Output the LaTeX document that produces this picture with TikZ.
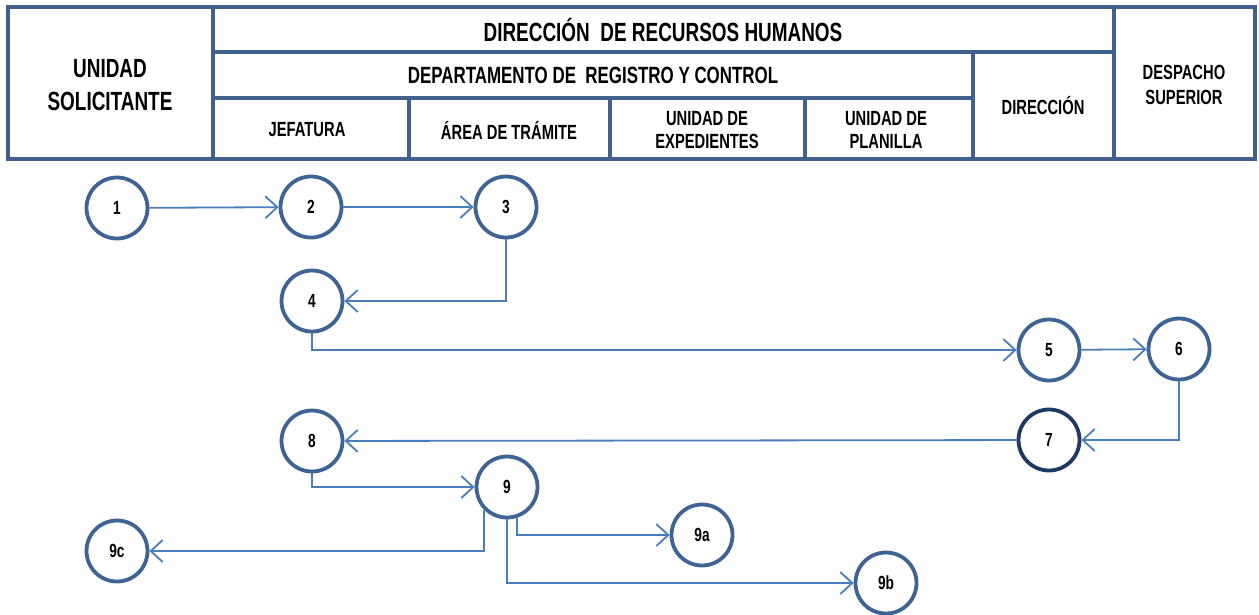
\documentclass[tikz,border=0pt]{standalone}
\usepackage{fontspec}
\setmainfont{Liberation Sans}[FakeStretch=0.72]
\usetikzlibrary{arrows.meta}
\definecolor{marco}{RGB}{65,97,140}
\definecolor{circulo}{RGB}{62,99,148}
\definecolor{flecha}{RGB}{74,126,187}
\definecolor{oscuro}{RGB}{31,56,100}
\begin{document}
\begin{tikzpicture}[x=1pt,y=-1pt,
    paso/.style={circle,draw=circulo,line width=3.8pt,minimum size=61pt,inner sep=0pt,
      font=\fontsize{19}{21}\selectfont\bfseries},
    flujo/.style={draw=flecha,line width=1.8pt,
      -{Straight Barb[length=12pt,width=22pt,line width=1.8pt]}},
    celda/.style={font=\fontsize{20.5}{23.5}\selectfont\bfseries,align=center},
    grande/.style={font=\fontsize{26.3}{33}\selectfont\bfseries,align=center},
    raya/.style={marco,line width=4pt}]
  \useasboundingbox (0,0) rectangle (1259,614);
  % encabezado
  \draw[raya] (8,7) rectangle (1255,159);
  \draw[raya] (213,7) -- (213,159) (1114,7) -- (1114,159)
    (213,52) -- (1114,52) (213,98) -- (973,98) (973,52) -- (973,159);
  \foreach \x in {409,610,805} \draw[raya] (\x,98) -- (\x,159);
  \node[grande] (sol) at (110,85) {UNIDAD\\SOLICITANTE};
  \node[grande] (rrhh) at (663,30) {DIRECCIÓN\ \ DE RECURSOS HUMANOS};
  \node[grande,font=\fontsize{23.5}{26}\selectfont\bfseries] (dep) at (593,75) {DEPARTAMENTO DE\ \ REGISTRO Y CONTROL};
  \node[celda] (jef) at (307,130) {JEFATURA};
  \node[celda] (tra) at (509,130) {ÁREA DE TRÁMITE};
  \node[celda] (exp) at (707,130) {UNIDAD DE\\EXPEDIENTES};
  \node[celda] (pla) at (886,130) {UNIDAD DE\\PLANILLA};
  \node[celda] (dir) at (1043,106) {DIRECCIÓN};
  \node[celda,font=\fontsize{20.5}{25}\selectfont\bfseries] (des) at (1184,85) {DESPACHO\\SUPERIOR};
  % pasos
  \node[paso] (n1) at (117,208) {1};
  \node[paso] (n2) at (311,207) {2};
  \node[paso] (n3) at (506,207) {3};
  \node[paso] (n4) at (312,301) {4};
  \node[paso] (n5) at (1049,350) {5};
  \node[paso] (n6) at (1179,349) {6};
  \node[paso,draw=oscuro] (n7) at (1049,440) {7};
  \node[paso] (n8) at (312,441) {8};
  \node[paso] (n9) at (507,487) {9};
  \node[paso] (n9a) at (702,535) {9a};
  \node[paso] (n9b) at (886,583) {9b};
  \node[paso] (n9c) at (117,551) {9c};
  % flujo
  \draw[flujo] (n1) -- (n2);
  \draw[flujo] (n2) -- (n3);
  \draw[flujo] (n3.south) |- (n4.east);
  \draw[flujo] (n4.south) |- (n5.west);
  \draw[flujo] (n5) -- (n6);
  \draw[flujo] (n6.south) |- (n7.east);
  \draw[flujo] (n7) -- (n8);
  \draw[flujo] (n8.south) |- (n9.west);
  \draw[flujo] (n9.south west) |- (n9c.east);
  \draw[flujo] (n9.-72) |- (n9a.west);
  \draw[flujo] (n9.south) |- (n9b.west);
\end{tikzpicture}
\end{document}
